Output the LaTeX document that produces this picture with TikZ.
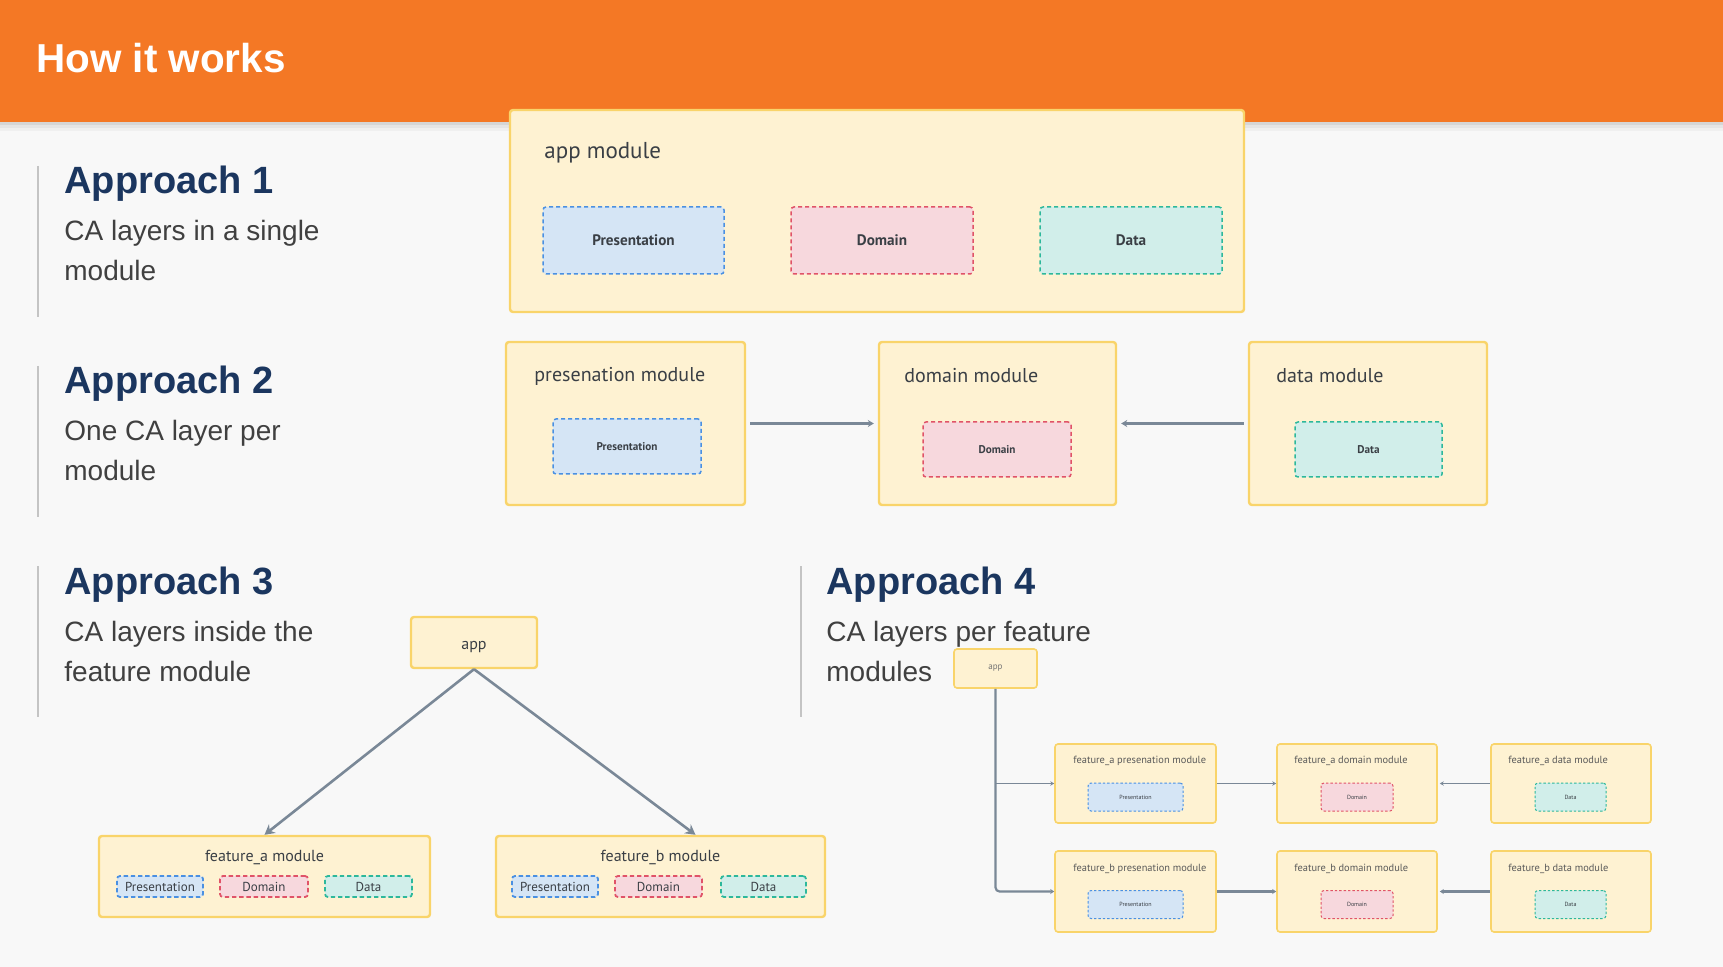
\documentclass[tikz,border=0pt]{standalone}
\usepackage{fontspec}
\setmainfont{Liberation Sans}
\newfontfamily\dinfont{PT Sans}
\usetikzlibrary{arrows.meta,fit}
\definecolor{bg}{HTML}{F8F8F8}
\definecolor{orangeh}{HTML}{F47825}
\definecolor{navy}{HTML}{1B365F}
\definecolor{bodygray}{HTML}{404040}
\definecolor{modfill}{HTML}{FEF2D2}
\definecolor{moddraw}{HTML}{F9D46A}
\definecolor{presfill}{HTML}{D5E5F5}
\definecolor{presdraw}{HTML}{4A90E2}
\definecolor{domfill}{HTML}{F7D8DD}
\definecolor{domdraw}{HTML}{E05368}
\definecolor{datafill}{HTML}{D1EEEA}
\definecolor{datadraw}{HTML}{2DB89B}
\definecolor{arrowc}{HTML}{7A8897}
\definecolor{rulec}{HTML}{C4C4C4}
\definecolor{modtext}{HTML}{3A3F45}
\tikzset{
  modbox/.style={draw=moddraw, fill=modfill, line width=1.2pt, rounded corners=1.5pt, inner sep=0pt},
  smallmod/.style={modbox, line width=0.8pt},
  layer/.style={line width=0.75pt, dash pattern=on 2pt off 1.5pt, rounded corners=1.5pt, inner sep=0pt, text=modtext},
  pres/.style={layer, draw=presdraw, fill=presfill},
  dom/.style={layer, draw=domdraw, fill=domfill},
  dat/.style={layer, draw=datadraw, fill=datafill},
  headtxt/.style={anchor=base west, inner sep=0pt, text=navy, font=\bfseries\fontsize{19}{23}\selectfont},
  bodytxt/.style={anchor=base west, inner sep=0pt, text=bodygray, font=\fontsize{14}{16}\selectfont},
  modtitle/.style={inner sep=0pt, text=modtext},
  conn/.style={draw=arrowc, line width=1.4pt},
}
\begin{document}
\begin{tikzpicture}[x=0.5pt,y=-0.5pt]
\useasboundingbox (0,0) rectangle (1723,967);
\fill[bg] (0,0) rectangle (1723,967);
% header
\fill[black!6] (0,121) rectangle (1723,131);
\fill[black!10] (0,121) rectangle (1723,128);
\fill[black!16] (0,121) rectangle (1723,125);
\fill[orangeh] (0,0) rectangle (1723,122);
\node[anchor=base west, inner sep=0pt, text=white, font=\bfseries\fontsize{20.2}{24}\selectfont] (title) at (36,73) {How it works};

% left column texts
\draw[rulec, line width=0.9pt] (38,166) -- (38,317);
\node[headtxt] (h1) at (64,194) {Approach 1};
\node[bodytxt] (b1a) at (64,241) {CA layers in a single};
\node[bodytxt] (b1b) at (64,281) {module};

\draw[rulec, line width=0.9pt] (38,366) -- (38,517);
\node[headtxt] (h2) at (64,394) {Approach 2};
\node[bodytxt] (b2a) at (64,441) {One CA layer per};
\node[bodytxt] (b2b) at (64,481) {module};

\draw[rulec, line width=0.9pt] (38,566) -- (38,717);
\node[headtxt] (h3) at (64,594) {Approach 3};
\node[bodytxt] (b3a) at (64,641) {CA layers inside the};
\node[bodytxt] (b3b) at (64,681) {feature module};

\draw[rulec, line width=0.9pt] (801,566) -- (801,717);
\node[headtxt] (h4) at (826,594) {Approach 4};
\node[bodytxt] (b4a) at (826,641) {CA layers per feature};
\node[bodytxt] (b4b) at (826,681) {modules};

% Approach 1 diagram
\node[modbox, fit={(510,110) (1244,312)}] (am) {};
\node[modtitle, anchor=base west, font=\dinfont\fontsize{11.5}{13}\selectfont] (amt) at (544,159) {app module};
\node[pres, minimum width=90.5pt, minimum height=33.5pt, font=\dinfont\bfseries\fontsize{7.6}{9}\selectfont] (amp) at (633.5,240.5) {Presentation};
\node[dom, minimum width=91pt, minimum height=33.5pt, font=\dinfont\bfseries\fontsize{7.6}{9}\selectfont] (amd) at (882,240.5) {Domain};
\node[dat, minimum width=91pt, minimum height=33.5pt, font=\dinfont\bfseries\fontsize{7.6}{9}\selectfont] (ama) at (1131,240.5) {Data};

% Approach 2 diagram
\node[modbox, fit={(506,342) (745,505)}] (pm) {};
\node[modbox, fit={(879,342) (1116,505)}] (dm) {};
\node[modbox, fit={(1249,342) (1487,505)}] (dam) {};
\node[modtitle, anchor=west, font=\dinfont\fontsize{10}{12}\selectfont] (pmt) at (534,376) {presenation module};
\node[modtitle, anchor=west, font=\dinfont\fontsize{10}{12}\selectfont] (dmt) at (904,376) {domain module};
\node[modtitle, anchor=west, font=\dinfont\fontsize{10}{12}\selectfont] (damt) at (1276,376) {data module};
\node[pres, minimum width=74pt, minimum height=27.5pt, font=\dinfont\bfseries\fontsize{5.6}{7}\selectfont] (pmp) at (627,446.5) {Presentation};
\node[dom, minimum width=74pt, minimum height=27.5pt, font=\dinfont\bfseries\fontsize{5.6}{7}\selectfont] (dmd) at (997,449.5) {Domain};
\node[dat, minimum width=73.5pt, minimum height=27.5pt, font=\dinfont\bfseries\fontsize{5.6}{7}\selectfont] (dama) at (1368.5,449.5) {Data};
\draw[conn, -{Stealth[length=3pt,width=3.5pt]}, shorten <=2pt, shorten >=2pt] (pm.east) -- (dm.west);
\draw[conn, -{Stealth[length=3pt,width=3.5pt]}, shorten <=2pt, shorten >=2pt] (dam.west) -- (dm.east);

% Approach 3 diagram
\node[modbox, fit={(411,617) (537,668)}] (app3) {};
\node[modtitle, anchor=base, font=\dinfont\fontsize{8}{10}\selectfont] (app3t) at (474,649) {app};
\node[modbox, fit={(99,836) (430,917)}] (fa) {};
\node[modbox, fit={(496,836) (825,917)}] (fb) {};
\node[modtitle, font=\dinfont\fontsize{8}{10}\selectfont] (fat) at (264.5,857) {feature\_a module};
\node[modtitle, font=\dinfont\fontsize{8}{10}\selectfont] (fbt) at (660.5,857) {feature\_b module};
\tikzset{l3/.style={minimum height=10.5pt, font=\dinfont\fontsize{6.5}{8}\selectfont, line width=0.9pt, dash pattern=on 2.2pt off 1.4pt}}
\node[pres, l3, minimum width=43pt] (fap) at (160,886.5) {Presentation};
\node[dom, l3, minimum width=44pt] (fad) at (264,886.5) {Domain};
\node[dat, l3, minimum width=43.5pt] (faa) at (368.5,886.5) {Data};
\node[pres, l3, minimum width=43pt] (fbp) at (555,886.5) {Presentation};
\node[dom, l3, minimum width=43.5pt] (fbd) at (658.5,886.5) {Domain};
\node[dat, l3, minimum width=42.5pt] (fba) at (763.5,886.5) {Data};
\draw[conn, line width=1.3pt, -{Stealth[length=5pt,width=5.5pt]}] (app3.south) -- (fa.north);
\draw[conn, line width=1.3pt, -{Stealth[length=5pt,width=5.5pt]}] (app3.south) -- ([xshift=17.5pt]fb.north);

% Approach 4 diagram
\node[smallmod, fit={(954,649) (1037,688)}] (app4) {};
\node[modtitle, font=\dinfont\fontsize{4.5}{5}\selectfont, text=black!55] (app4t) at (app4.center) {app};
\foreach \nm/\yt/\yb in {r1/744/823, r2/851/932} {
  \node[smallmod, fit={(1055,\yt) (1216,\yb)}] (\nm p) {};
  \node[smallmod, fit={(1277,\yt) (1437,\yb)}] (\nm d) {};
  \node[smallmod, fit={(1491,\yt) (1651,\yb)}] (\nm a) {};
}
\tikzset{t4/.style={modtitle, anchor=west, font=\dinfont\fontsize{5.2}{6}\selectfont, text=black!65},
         l4/.style={minimum height=14pt, font=\dinfont\fontsize{3}{4}\selectfont, line width=0.5pt, dash pattern=on 1.2pt off 1pt}}
\node[t4] (r1pt) at (1073,761) {feature\_a presenation module};
\node[t4] (r1dt) at (1294,761) {feature\_a domain module};
\node[t4] (r1at) at (1508,761) {feature\_a data module};
\node[t4] (r2pt) at (1073,869) {feature\_b presenation module};
\node[t4] (r2dt) at (1294,869) {feature\_b domain module};
\node[t4] (r2at) at (1508,869) {feature\_b data module};
\node[pres, l4, minimum width=47.5pt] (r1pp) at (1135.5,797) {Presentation};
\node[dom, l4, minimum width=36pt] (r1dd) at (1357,797) {Domain};
\node[dat, l4, minimum width=35.5pt] (r1aa) at (1570.5,797) {Data};
\node[pres, l4, minimum width=47.5pt] (r2pp) at (1135.5,904.5) {Presentation};
\node[dom, l4, minimum width=36pt] (r2dd) at (1357,904.5) {Domain};
\node[dat, l4, minimum width=35.5pt] (r2aa) at (1570.5,904.5) {Data};
\draw[conn, line width=0.55pt, -{Stealth[length=2pt,width=2.2pt]}] (app4.south) |- (r1p.west);
\draw[conn, line width=1.1pt, rounded corners=2pt, -{Stealth[length=2pt,width=2.5pt]}] (app4.south) |- (r2p.west);
\draw[conn, line width=0.55pt, -{Stealth[length=2pt,width=2.2pt]}] (r1p.east) -- (r1d.west);
\draw[conn, line width=0.55pt, -{Stealth[length=2pt,width=2.2pt]}, shorten >=1pt] (r1a.west) -- (r1d.east);
\draw[conn, line width=1.1pt, -{Stealth[length=2pt,width=2.5pt]}] (r2p.east) -- (r2d.west);
\draw[conn, line width=1.1pt, -{Stealth[length=2pt,width=2.5pt]}, shorten >=1pt] (r2a.west) -- (r2d.east);
\end{tikzpicture}
\end{document}
